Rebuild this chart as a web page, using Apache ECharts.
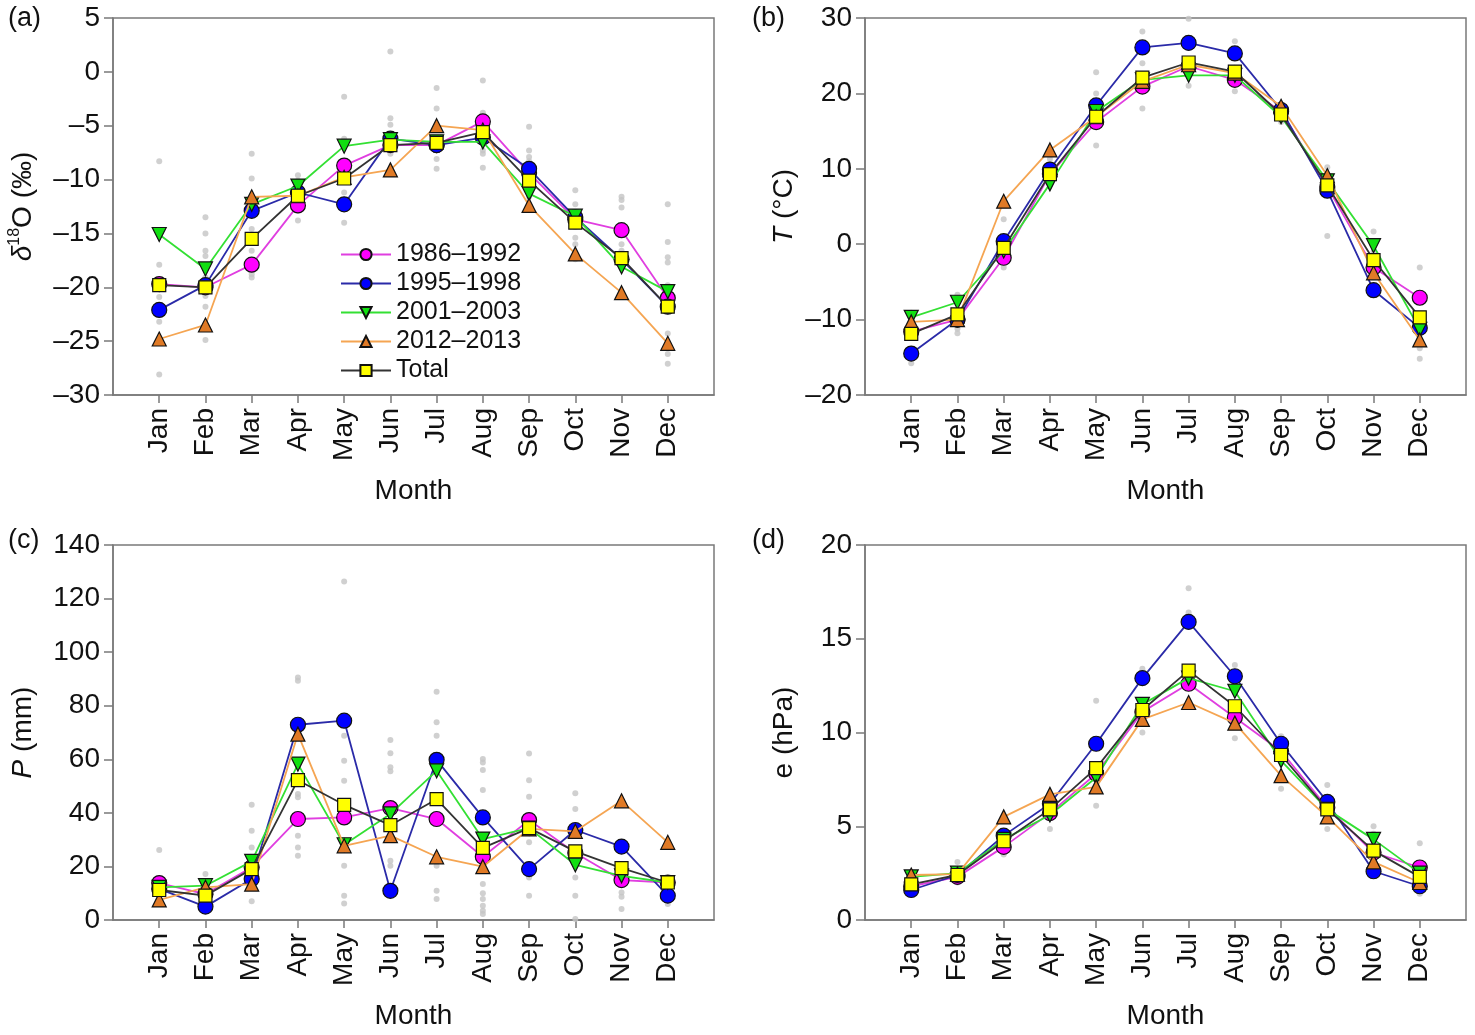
<!DOCTYPE html>
<html>
<head>
<meta charset="utf-8">
<script src="https://cdn.jsdelivr.net/npm/echarts@6/dist/echarts.min.js"></script>
<style>
  html, body { margin: 0; padding: 0; background: #fff; }
  #main { width: 1475px; height: 1035px; }
</style>
</head>
<body>
<div id="main"></div>
<script>
var months = ['Jan', 'Feb', 'Mar', 'Apr', 'May', 'Jun', 'Jul', 'Aug', 'Sep', 'Oct', 'Nov', 'Dec'];
var periods = ['1986–1992', '1995–1998', '2001–2003', '2012–2013', 'Total'];

// (a) d18O (permil)
var d18O_8692 = [-19.7, -20.0, -17.9, -12.4, -8.7, -6.8, -6.8, -4.6, -9.4, -13.7, -14.7, -21.0];
var d18O_9598 = [-22.1, -19.8, -12.9, -11.2, -12.3, -6.2, -6.8, -6.1, -9.0, -13.5, -17.4, -21.8];
var d18O_0103 = [-15.1, -18.3, -12.3, -10.6, -6.9, -6.3, -6.5, -6.5, -11.3, -13.4, -18.1, -20.4];
var d18O_1213 = [-24.8, -23.5, -11.6, -11.5, -9.8, -9.1, -5.0, -5.4, -12.4, -16.9, -20.5, -25.2];
var d18O_total = [-19.8, -20.0, -15.5, -11.5, -9.9, -6.8, -6.6, -5.6, -10.1, -14.0, -17.3, -21.8];
var d18O_years = [
  [-8.3, -17.9, -20.9, -23.2, -28.1],
  [-13.5, -15.0, -16.6, -17.1, -19.1, -20.8, -21.8, -24.9],
  [-7.6, -9.9, -14.6, -16.6, -18.8, -19.1],
  [-9.6, -10.1, -12.9, -13.8],
  [-2.3, -6.2, -6.5, -11.2, -14.0],
  [1.9, -4.3, -4.9, -7.1, -7.6, -9.4],
  [-1.5, -3.4, -7.3, -8.1, -9.0],
  [-0.8, -3.8, -4.3, -7.3, -7.6, -8.9],
  [-5.1, -7.3, -7.9, -8.3, -9.8, -11.6],
  [-11.0, -12.3, -14.4, -15.4, -16.0, -17.4],
  [-11.6, -11.9, -12.6, -16.0, -16.6, -17.9],
  [-12.3, -15.8, -17.2, -17.7, -19.8, -24.3, -26.2, -27.1]
];

// (b) T (degC)
var T_8692 = [-11.6, -10.0, -1.8, 9.3, 16.2, 20.9, 23.6, 21.8, 17.6, 7.6, -3.1, -7.1];
var T_9598 = [-14.5, -10.0, 0.4, 9.9, 18.4, 26.1, 26.7, 25.3, 17.8, 7.1, -6.1, -11.1];
var T_0103 = [-9.7, -7.7, -0.9, 8.0, 17.6, 21.8, 22.4, 22.4, 16.9, 8.4, -0.2, -11.3];
var T_1213 = [-10.3, -10.0, 5.7, 12.5, 16.9, 21.6, 23.8, 22.7, 18.3, 9.1, -3.8, -12.7];
var T_total = [-11.9, -9.3, -0.5, 9.3, 16.9, 22.1, 24.1, 22.9, 17.2, 7.8, -2.1, -9.7];
var T_years = [
  [-9.1, -15.1, -15.8],
  [-6.7, -11.2, -11.8],
  [3.3, -3.1],
  [11.3, 8.5],
  [22.8, 20.0, 13.1],
  [28.2, 24.0, 18.0],
  [29.9, 21.0],
  [26.9, 20.3],
  [16.2, 18.6],
  [10.2, 1.1],
  [1.7, -1.0],
  [-3.1, -13.8, -15.2]
];

// (c) P (mm)
var P_8692 = [13.8, 9.7, 19.7, 37.7, 38.3, 41.8, 37.7, 23.6, 37.3, 25.0, 14.9, 14.0];
var P_9598 = [11.6, 5.0, 15.3, 72.9, 74.4, 10.9, 59.8, 38.3, 19.0, 33.6, 27.4, 9.1];
var P_0103 = [12.2, 12.8, 21.9, 58.2, 28.1, 39.6, 55.7, 30.2, 34.3, 20.6, 16.5, 14.0];
var P_1213 = [7.5, 12.2, 13.4, 69.4, 27.7, 31.5, 23.6, 19.9, 34.0, 33.1, 44.5, 29.0];
var P_total = [11.2, 9.1, 19.0, 52.2, 43.0, 35.4, 45.1, 26.9, 34.3, 25.6, 19.4, 14.0];
var P_years = [
  [26.1, 9.5, 7.0],
  [17.2, 3.5],
  [43.0, 33.3, 27.1, 7.0],
  [90.5, 89.3, 47.0, 45.8, 31.5, 27.1, 24.0],
  [126.4, 68.8, 59.5, 52.0, 20.3, 9.1, 6.2],
  [67.2, 62.3, 57.0, 55.5, 22.1, 20.3],
  [85.2, 73.8, 68.8, 20.3, 10.9, 7.8],
  [60.1, 58.8, 56.0, 48.5, 13.4, 10.0, 7.8, 5.3, 3.5, 2.2],
  [62.2, 52.2, 46.0, 29.0, 15.9, 9.1],
  [47.3, 41.4, 15.9, 9.1, 0.4],
  [10.3, 8.7, 4.1],
  [6.0]
];

// (d) e (hPa)
var e_8692 = [1.8, 2.3, 3.9, 5.7, 7.8, 11.1, 12.6, 10.8, 9.0, 6.0, 3.6, 2.8];
var e_9598 = [1.6, 2.4, 4.5, 6.2, 9.4, 12.9, 15.9, 13.0, 9.4, 6.3, 2.6, 1.8];
var e_0103 = [2.3, 2.5, 4.3, 5.6, 7.6, 11.5, 12.9, 12.2, 8.5, 5.9, 4.3, 2.5];
var e_1213 = [2.4, 2.45, 5.5, 6.7, 7.1, 10.7, 11.6, 10.5, 7.7, 5.5, 3.1, 2.0];
var e_total = [1.9, 2.4, 4.2, 5.9, 8.1, 11.2, 13.3, 11.4, 8.8, 5.9, 3.7, 2.3];
var e_years = [
  [2.45],
  [3.1, 2.0],
  [3.5],
  [4.85],
  [11.7, 6.1],
  [13.4, 10.0],
  [17.7, 16.4],
  [13.6, 9.7],
  [9.8, 7.0],
  [7.2, 4.85],
  [5.0, 4.6],
  [4.1, 1.4]
];

var FONT = 'Liberation Sans, Arial, Helvetica, sans-serif';
var AXIS_GRAY = '#7a7a7a';
var monthTicks = [1, 2, 3, 4, 5, 6, 7, 8, 9, 10, 11, 12];

// look of each period: line colour, fill, symbol
var styles = [
  { line: '#e03ee0', fill: '#ff00ff', symbol: 'circle', size: 15, rotate: 0 },
  { line: '#2a2aa8', fill: '#0000ff', symbol: 'circle', size: 15, rotate: 0 },
  { line: '#33e033', fill: '#11e011', symbol: 'triangle', size: 14, rotate: 180 },
  { line: '#f5a552', fill: '#e07a26', symbol: 'triangle', size: 14, rotate: 0 },
  { line: '#333333', fill: '#ffff00', symbol: 'rect', size: 13, rotate: 0 }
];

var panels = [
  { lines: [d18O_8692, d18O_9598, d18O_0103, d18O_1213, d18O_total], years: d18O_years,
    min: -30, max: 5, interval: 5, left: 113, top: 18, height: 377, gap: 74,
    name: '{i|δ}{s|18}O (‰)' },
  { lines: [T_8692, T_9598, T_0103, T_1213, T_total], years: T_years,
    min: -20, max: 30, interval: 10, left: 865, top: 18, height: 377, gap: 65,
    name: '{i|T} (°C)' },
  { lines: [P_8692, P_9598, P_0103, P_1213, P_total], years: P_years,
    min: 0, max: 140, interval: 20, left: 113, top: 545, height: 375, gap: 74,
    name: '{i|P} (mm)' },
  { lines: [e_8692, e_9598, e_0103, e_1213, e_total], years: e_years,
    min: 0, max: 20, interval: 5, left: 865, top: 545, height: 375, gap: 67,
    name: 'e (hPa)' }
];

var grids = [], xAxes = [], yAxes = [], series = [];

panels.forEach(function (p, k) {
    grids.push({
        left: p.left, top: p.top, width: 601, height: p.height,
        show: true, borderColor: AXIS_GRAY, borderWidth: 1.5, backgroundColor: '#fff'
    });
    xAxes.push({
        type: 'value', gridIndex: k, min: 0, max: 13, interval: 1,
        name: 'Month', nameLocation: 'middle', nameGap: 82,
        nameTextStyle: { fontFamily: FONT, fontSize: 28, color: '#111' },
        axisLine: { show: true, onZero: false, lineStyle: { color: AXIS_GRAY, width: 1.5 } },
        axisTick: { show: true, length: 8, customValues: monthTicks, lineStyle: { color: AXIS_GRAY, width: 1.5 } },
        axisLabel: {
            customValues: monthTicks, rotate: 90, margin: 13,
            fontFamily: FONT, fontSize: 28, color: '#111',
            formatter: function (v) { return months[v - 1] || ''; }
        },
        splitLine: { show: false }
    });
    yAxes.push({
        type: 'value', gridIndex: k, min: p.min, max: p.max, interval: p.interval,
        name: p.name, nameLocation: 'middle', nameGap: p.gap,
        nameTextStyle: {
            fontFamily: FONT, fontSize: 28, color: '#111',
            rich: {
                i: { fontFamily: FONT, fontSize: 28, fontStyle: 'italic', color: '#111', lineHeight: 32 },
                s: { fontFamily: FONT, fontSize: 16, color: '#111', verticalAlign: 'top', lineHeight: 32 }
            }
        },
        axisLine: { show: true, onZero: false, lineStyle: { color: AXIS_GRAY, width: 1.5 } },
        axisTick: { show: true, length: 9, lineStyle: { color: AXIS_GRAY, width: 1.5 } },
        axisLabel: {
            margin: 13, fontFamily: FONT, fontSize: 28, color: '#111',
            formatter: function (v) { return v < 0 ? '–' + Math.abs(v) : String(v); }
        },
        splitLine: { show: false }
    });

    // single years in gray
    var dots = [];
    p.years.forEach(function (vals, m) {
        vals.forEach(function (v) { dots.push([m + 1, v]); });
    });
    series.push({
        type: 'scatter', name: 'years', xAxisIndex: k, yAxisIndex: k,
        data: dots, symbolSize: 6, z: 1, silent: true,
        itemStyle: { color: '#c4c4c4' }
    });

    p.lines.forEach(function (vals, j) {
        var st = styles[j];
        series.push({
            type: 'line', name: periods[j], xAxisIndex: k, yAxisIndex: k,
            data: vals.map(function (v, m) { return [m + 1, v]; }),
            symbol: st.symbol, symbolSize: st.size, symbolRotate: st.rotate,
            showAllSymbol: true, z: 2 + j,
            lineStyle: { color: st.line, width: 1.8 },
            itemStyle: { color: st.fill, borderColor: '#111', borderWidth: 1.2 },
            emphasis: { disabled: true }
        });
    });
});

var labels = [
    { t: '(a)', x: 8, y: 20 },
    { t: '(b)', x: 752, y: 20 },
    { t: '(c)', x: 8, y: 542 },
    { t: '(d)', x: 752, y: 542 }
];

var chart = echarts.init(document.getElementById('main'), null, { renderer: 'canvas' });
chart.setOption({
    backgroundColor: '#fff',
    animation: false,
    grid: grids,
    xAxis: xAxes,
    yAxis: yAxes,
    legend: {
        data: periods, orient: 'vertical', left: 335, top: 237,
        itemWidth: 50, itemHeight: 14, itemGap: 4, selectedMode: false,
        textStyle: { fontFamily: FONT, fontSize: 25, color: '#111', lineHeight: 24, padding: [0, 0, 0, 0] }
    },
    graphic: labels.map(function (l) {
        return {
            type: 'text', left: l.x, top: l.y - 15,
            style: { text: l.t, fontFamily: FONT, fontSize: 27, fill: '#111' }
        };
    }),
    series: series
});
window.onresize = chart.resize;
</script>
</body>
</html>
